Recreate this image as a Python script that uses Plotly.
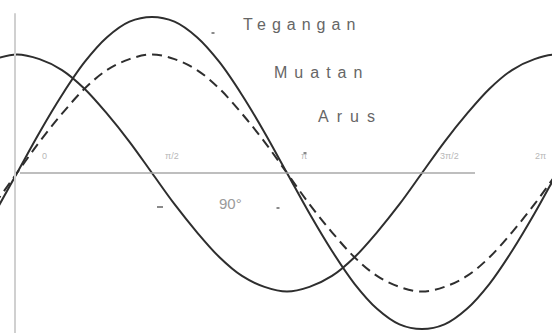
import plotly.graph_objects as go

# Phase angle (degrees) at which the curves are sampled
phase = [-15, 0, 15, 30, 45, 60, 75, 90, 105, 120, 135, 150, 165, 180, 195,
         210, 225, 240, 255, 270, 285, 300, 315, 330, 345, 360, 375]

# Tegangan (voltage), normalised to its peak
tegangan = [-0.26, 0.00, 0.26, 0.50, 0.71, 0.87, 0.97, 1.00, 0.97, 0.87, 0.71,
            0.50, 0.26, 0.00, -0.26, -0.50, -0.71, -0.87, -0.97, -1.00, -0.97,
            -0.87, -0.71, -0.50, -0.26, 0.00, 0.26]

# Muatan (charge), in phase with the voltage
muatan = [-0.20, 0.00, 0.20, 0.38, 0.54, 0.66, 0.73, 0.76, 0.73, 0.66, 0.54,
          0.38, 0.20, 0.00, -0.20, -0.38, -0.54, -0.66, -0.73, -0.76, -0.73,
          -0.66, -0.54, -0.38, -0.20, 0.00, 0.20]

# Arus (current), leading the voltage by a quarter cycle
arus = [0.73, 0.76, 0.73, 0.66, 0.54, 0.38, 0.20, 0.00, -0.20, -0.38, -0.54,
        -0.66, -0.73, -0.76, -0.73, -0.66, -0.54, -0.38, -0.20, 0.00, 0.20,
        0.38, 0.54, 0.66, 0.73, 0.76, 0.73]

# Phase ticks along the time axis, with the label offset (degrees) from each tick
tick_phase = [0, 90, 180, 270, 360]
tick_text = ["0", "π/2", "π", "3π/2", "2π"]
tick_offset = [18, 13, 11, 18, -11]

ink = "#2e2e2e"
grey = "#8a8a8a"

fig = go.Figure()
fig.add_trace(go.Scatter(x=phase, y=tegangan, mode="lines", name="Tegangan",
                         line=dict(color=ink, width=2, shape="spline")))
fig.add_trace(go.Scatter(x=phase, y=muatan, mode="lines", name="Muatan",
                         line=dict(color=ink, width=2, shape="spline", dash="10px,6px")))
fig.add_trace(go.Scatter(x=phase, y=arus, mode="lines", name="Arus",
                         line=dict(color=ink, width=2, shape="spline")))

# time axis and the faint frame edge on the left
fig.add_shape(type="line", xref="paper", yref="y", x0=20 / 552, x1=475 / 552, y0=0, y1=0,
              line=dict(color="#a8a8a8", width=1.5))
fig.add_shape(type="line", xref="paper", yref="paper", x0=15 / 552, x1=15 / 552, y0=0, y1=0.96,
              line=dict(color="#d0d0d0", width=2))

annotations = []
for p, t, off in zip(tick_phase, tick_text, tick_offset):
    annotations.append(dict(x=p + off, y=0, xref="x", yref="y", text=t, showarrow=False,
                            yshift=17, font=dict(size=9, color="#b8b8b8",
                                                 family="Liberation Sans")))

labels = [("Tegangan", 302, 25), ("Muatan", 321, 72), ("Arus", 350, 117)]
for txt, px, py in labels:
    annotations.append(dict(x=px / 552, y=1 - py / 333, xref="paper", yref="paper",
                            text=txt, showarrow=False, xanchor="center", yanchor="middle",
                            font=dict(size=16, color="#666666", family="Liberation Sans")))

annotations.append(dict(x=230 / 552, y=1 - 203 / 333, xref="paper", yref="paper",
                        text="90°", showarrow=False, xanchor="center", yanchor="middle",
                        font=dict(size=15, color="#9a9a9a", family="Liberation Sans")))

# small leader marks
for px, py, w in [(213, 33, 3), (305, 153, 3), (160, 207, 6), (278, 208, 3)]:
    fig.add_shape(type="line", xref="paper", yref="paper",
                  x0=(px - w / 2) / 552, x1=(px + w / 2) / 552,
                  y0=1 - py / 333, y1=1 - py / 333,
                  line=dict(color=grey, width=2))

fig.update_layout(
    width=552, height=333,
    margin=dict(l=0, r=0, t=0, b=0),
    paper_bgcolor="white", plot_bgcolor="white",
    showlegend=False,
    annotations=annotations,
    xaxis=dict(range=[-17 / 1.5, 535 / 1.5], visible=False),
    yaxis=dict(range=[-160 / 156, 173 / 156], visible=False),
)

spacing_js = """
document.querySelectorAll('.annotation-text').forEach(function (el) {
  var t = el.textContent;
  if (t === 'Tegangan') el.style.letterSpacing = '6px';
  if (t === 'Muatan') el.style.letterSpacing = '7px';
  if (t === 'Arus') el.style.letterSpacing = '8px';
});
"""

fig.write_html("out.html", post_script=spacing_js)
